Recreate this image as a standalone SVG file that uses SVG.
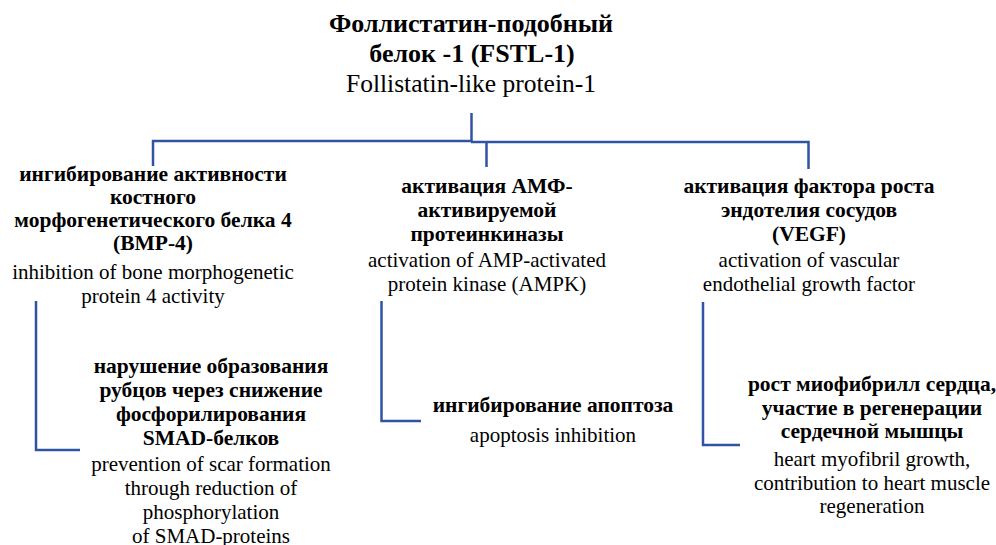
<svg xmlns="http://www.w3.org/2000/svg" width="996" height="545" viewBox="0 0 996 545">
<style>
text{font-family:"Liberation Serif","Times New Roman",serif;fill:#000;text-anchor:middle}
.t{font-size:26px;font-weight:bold}
.tr{font-size:25.5px}
.b{font-size:21.5px;font-weight:bold}
.r{font-size:21px}
.c{fill:none;stroke:#3153a3;stroke-width:2.5}
</style>
<rect width="996" height="545" fill="#fff"/>
<g id="connectors">
<path class="c" d="M471.5,113 V141"/>
<path class="c" d="M153,166 V141 H472"/>
<path class="c" d="M471,142 H808.5 V169"/>
<path class="c" d="M486.5,142 V167"/>
<path class="c" d="M36,301 V450 H80"/>
<path class="c" d="M381.5,301 V421 H421"/>
<path class="c" d="M703,302 V445 H740"/>
</g>
<g id="root">
<text class="t" x="471" y="32">Фоллистатин-подобный</text>
<text class="t" x="472" y="62">белок -1 (FSTL-1)</text>
<text class="tr" x="471" y="92">Follistatin-like protein-1</text>
</g>
<g id="bmp4">
<text class="b" x="153" y="181">ингибирование активности</text>
<text class="b" x="153" y="204">костного</text>
<text class="b" x="153" y="227">морфогенетического белка 4</text>
<text class="b" x="153" y="250">(BMP-4)</text>
<text class="r" x="153" y="279">inhibition of bone morphogenetic</text>
<text class="r" x="153" y="303">protein 4 activity</text>
</g>
<g id="ampk">
<text class="b" x="487" y="193">активация АМФ-</text>
<text class="b" x="487" y="217">активируемой</text>
<text class="b" x="487" y="241">протеинкиназы</text>
<text class="r" x="487" y="267">activation of AMP-activated</text>
<text class="r" x="487" y="291">protein kinase (AMPK)</text>
</g>
<g id="vegf">
<text class="b" x="809" y="193">активация фактора роста</text>
<text class="b" x="809" y="217">эндотелия сосудов</text>
<text class="b" x="809" y="241">(VEGF)</text>
<text class="r" x="809" y="267">activation of vascular</text>
<text class="r" x="809" y="291">endothelial growth factor</text>
</g>
<g id="smad">
<text class="b" x="211" y="373">нарушение образования</text>
<text class="b" x="211" y="397">рубцов через снижение</text>
<text class="b" x="211" y="421">фосфорилирования</text>
<text class="b" x="211" y="445">SMAD-белков</text>
<text class="r" x="211" y="471">prevention of scar formation</text>
<text class="r" x="211" y="495">through reduction of</text>
<text class="r" x="211" y="519">phosphorylation</text>
<text class="r" x="211" y="543">of SMAD-proteins</text>
</g>
<g id="apoptosis">
<text class="b" x="553" y="412">ингибирование апоптоза</text>
<text class="r" x="553" y="442">apoptosis inhibition</text>
</g>
<g id="heart">
<text class="b" x="872" y="391">рост миофибрилл сердца,</text>
<text class="b" x="872" y="415">участие в регенерации</text>
<text class="b" x="872" y="438">сердечной мышцы</text>
<text class="r" x="872" y="466">heart myofibril growth,</text>
<text class="r" x="872" y="490">contribution to heart muscle</text>
<text class="r" x="872" y="513">regeneration</text>
</g>
</svg>
